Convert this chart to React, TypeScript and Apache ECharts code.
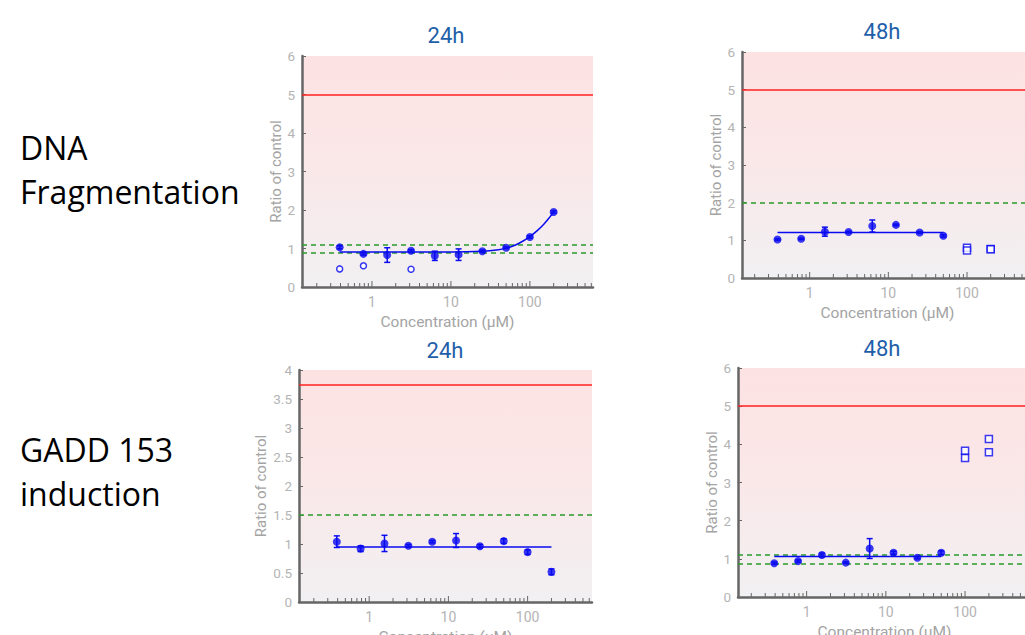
import React, { useEffect, useRef } from "react";
import * as echarts from "echarts";

// ---------- data ----------
const conc = [0.39, 0.78, 1.56, 3.125, 6.25, 12.5, 25, 50, 100, 200];

// DNA fragmentation, 24h
const dna24Mean = [1.03, 0.86, 0.83, 0.94, 0.81, 0.84, 0.93, 1.02, 1.3, 1.95];
const dna24Err = [0.04, 0.03, 0.19, 0.03, 0.12, 0.15, 0.03, 0.02, 0.03, 0.03];
const dna24OpenX = [0.39, 0.78, 3.125];
const dna24OpenY = [0.47, 0.55, 0.46];
const dna24FitX = [0.39, 10, 25, 40, 50, 60, 75, 100, 125, 150, 175, 200];
const dna24FitY = [0.91, 0.91, 0.93, 0.97, 1.01, 1.06, 1.15, 1.31, 1.47, 1.63, 1.79, 1.95];

// DNA fragmentation, 48h
const dna48Conc = [0.39, 0.78, 1.56, 3.125, 6.25, 12.5, 25, 50];
const dna48Mean = [1.02, 1.04, 1.23, 1.22, 1.38, 1.41, 1.21, 1.12];
const dna48Err = [0.02, 0.02, 0.12, 0.02, 0.16, 0.02, 0.02, 0.03];
const dna48SqX = [100, 100, 200, 200];
const dna48SqY = [0.8, 0.73, 0.77, 0.76];
const dna48FitX = [0.39, 50];
const dna48FitY = [1.21, 1.21];

// GADD 153 induction, 24h
const gadd24Mean = [1.04, 0.92, 1.01, 0.97, 1.04, 1.06, 0.96, 1.05, 0.86, 0.52];
const gadd24Err = [0.1, 0.05, 0.14, 0.02, 0.02, 0.12, 0.03, 0.04, 0.04, 0.05];
const gadd24FitX = [0.39, 200];
const gadd24FitY = [0.95, 0.95];

// GADD 153 induction, 48h
const gadd48Conc = [0.39, 0.78, 1.56, 3.125, 6.25, 12.5, 25, 50];
const gadd48Mean = [0.885, 0.94, 1.1, 0.9, 1.27, 1.16, 1.03, 1.16];
const gadd48Err = [0.03, 0.03, 0.05, 0.02, 0.26, 0.04, 0.03, 0.05];
const gadd48SqX = [100, 100, 200, 200];
const gadd48SqY = [3.83, 3.64, 4.14, 3.79];
const gadd48FitX = [0.39, 50];
const gadd48FitY = [1.06, 1.06];

// thresholds
const redLimits = [5, 5, 3.75, 5];
const greenLimits = [[1.1, 0.9], [2], [1.5], [1.1, 0.87]];

// axes
const yMaxes = [6, 6, 4, 6];
const yIntervals = [1, 1, 0.5, 1];
const xMins = [0.13, 0.138, 0.13, 0.136];
const xMaxes = [630, 690, 650, 680];
const xMajorTicks = [1, 10, 100];
const xMinorTicks = [
  0.2, 0.3, 0.4, 0.5, 0.6, 0.7, 0.8, 0.9,
  2, 3, 4, 5, 6, 7, 8, 9,
  20, 30, 40, 50, 60, 70, 80, 90,
  200, 300, 400, 500, 600,
];

const titles = ["24h", "48h", "24h", "48h"];
const rowLabels = [["DNA", "Fragmentation"], ["GADD 153", "induction"]];

// ---------- layout ----------
const grids = [
  { left: 302, top: 56, width: 291, height: 231 },
  { left: 742, top: 52, width: 291, height: 226 },
  { left: 299, top: 370, width: 293, height: 232 },
  { left: 738, top: 368, width: 293, height: 229 },
];
const titlePos = [
  [446, 35],
  [882, 31],
  [445, 350],
  [882, 348],
];
const yNameGaps = [19, 18, 31, 17];

const BLUE = "#0a0af0";
const AXIS = "#666666";

export default function App() {
  const ref = useRef<HTMLDivElement>(null);

  useEffect(() => {
    if (!ref.current) return;
    const chart = echarts.init(ref.current, undefined, { renderer: "svg" });

    const panels = [
      {
        x: conc, mean: dna24Mean, err: dna24Err,
        extraX: dna24OpenX, extraY: dna24OpenY, extraSymbol: "circle",
        fitX: dna24FitX, fitY: dna24FitY, smooth: true,
      },
      {
        x: dna48Conc, mean: dna48Mean, err: dna48Err,
        extraX: dna48SqX, extraY: dna48SqY, extraSymbol: "rect",
        fitX: dna48FitX, fitY: dna48FitY, smooth: false,
      },
      {
        x: conc, mean: gadd24Mean, err: gadd24Err,
        extraX: [] as number[], extraY: [] as number[], extraSymbol: "rect",
        fitX: gadd24FitX, fitY: gadd24FitY, smooth: false,
      },
      {
        x: gadd48Conc, mean: gadd48Mean, err: gadd48Err,
        extraX: gadd48SqX, extraY: gadd48SqY, extraSymbol: "rect",
        fitX: gadd48FitX, fitY: gadd48FitY, smooth: false,
      },
    ];

    const bg = () =>
      new echarts.graphic.LinearGradient(0, 0, 0, 1, [
        { offset: 0, color: "#fde2e2" },
        { offset: 0.5, color: "#fae8e9" },
        { offset: 1, color: "#f1f0f2" },
      ]);

    const series: any[] = [];
    panels.forEach((p, i) => {
      const ticks = [...xMajorTicks.map((v) => [v, 1]), ...xMinorTicks.map((v) => [v, 0])].filter(
        (t) => t[0] >= xMins[i] && t[0] <= xMaxes[i]
      );
      series.push({
        type: "custom",
        xAxisIndex: i,
        yAxisIndex: i,
        silent: true,
        clip: false,
        z: 10,
        data: ticks,
        renderItem: (params: any, api: any) => {
          const v = api.value(0);
          const major = api.value(1);
          const pt = api.coord([v, 0]);
          const len = major ? 6 : 4;
          return {
            type: "line",
            shape: { x1: pt[0], y1: pt[1], x2: pt[0], y2: pt[1] - len },
            style: { stroke: AXIS, lineWidth: 1 },
          };
        },
      });
      const markData: any[] = [
        { yAxis: redLimits[i], lineStyle: { color: "#ff2222", type: "solid", width: 1.6 } },
        ...greenLimits[i].map((g) => ({
          yAxis: g,
          lineStyle: { color: "#2a9a2a", type: [5, 4], width: 1.6 },
        })),
      ];
      series.push({
        type: "line",
        xAxisIndex: i,
        yAxisIndex: i,
        data: p.fitX.map((x, k) => [x, p.fitY[k]]),
        showSymbol: false,
        symbol: "none",
        smooth: p.smooth ? 0.25 : false,
        lineStyle: { color: BLUE, width: 1.5 },
        silent: true,
        z: 3,
        markLine: {
          silent: true,
          symbol: ["none", "none"],
          label: { show: false },
          data: markData,
          z: 2,
        },
      });
      series.push({
        type: "custom",
        xAxisIndex: i,
        yAxisIndex: i,
        silent: true,
        z: 4,
        encode: { x: 0, y: [1, 2] },
        data: p.x.map((x, k) => [x, p.mean[k] - p.err[k], p.mean[k] + p.err[k]]),
        renderItem: (params: any, api: any) => {
          const lo = api.coord([api.value(0), api.value(1)]);
          const hi = api.coord([api.value(0), api.value(2)]);
          const w = 3;
          const st = { stroke: BLUE, lineWidth: 1.5 };
          return {
            type: "group",
            children: [
              { type: "line", shape: { x1: lo[0], y1: lo[1], x2: hi[0], y2: hi[1] }, style: st },
              { type: "line", shape: { x1: lo[0] - w, y1: lo[1], x2: lo[0] + w, y2: lo[1] }, style: st },
              { type: "line", shape: { x1: hi[0] - w, y1: hi[1], x2: hi[0] + w, y2: hi[1] }, style: st },
            ],
          };
        },
      });
      series.push({
        type: "scatter",
        xAxisIndex: i,
        yAxisIndex: i,
        symbol: "circle",
        symbolSize: 8,
        itemStyle: { color: BLUE },
        z: 5,
        data: p.x.map((x, k) => [x, p.mean[k]]),
      });
      if (p.extraX.length) {
        series.push({
          type: "scatter",
          xAxisIndex: i,
          yAxisIndex: i,
          symbol: p.extraSymbol,
          symbolSize: p.extraSymbol === "rect" ? 7 : 6,
          itemStyle: { color: "#ffffff", borderColor: BLUE, borderWidth: 1.5 },
          z: 5,
          data: p.extraX.map((x, k) => [x, p.extraY[k]]),
        });
      }
    });

    const font = "Roboto, sans-serif";
    const graphic: any[] = [];
    titles.forEach((t, i) => {
      graphic.push({
        type: "text",
        x: titlePos[i][0],
        y: titlePos[i][1],
        style: {
          text: t,
          fill: "#1f5fa9",
          font: `22px ${font}`,
          align: "center",
          verticalAlign: "middle",
        },
      });
    });
    const rowY = [
      [147, 191],
      [449, 493],
    ];
    rowLabels.forEach((lines, r) => {
      lines.forEach((ln, k) => {
        graphic.push({
          type: "text",
          x: 20,
          y: rowY[r][k],
          style: {
            text: ln,
            fill: "#000000",
            font: "32px 'Open Sans', sans-serif",
            align: "left",
            verticalAlign: "middle",
          },
        });
      });
    });

    chart.setOption({
      animation: false,
      backgroundColor: "#ffffff",
      grid: grids.map((g) => ({
        ...g,
        show: true,
        backgroundColor: bg(),
        borderWidth: 0,
        containLabel: false,
        outerBoundsMode: "none",
      })),
      xAxis: grids.map((g, i) => ({
        type: "log",
        logBase: 10,
        gridIndex: i,
        min: xMins[i],
        max: xMaxes[i],
        axisLine: { show: true, onZero: false, lineStyle: { color: AXIS, width: 2.5 } },
        axisTick: { show: false },
        minorTick: { show: false },
        splitLine: { show: false },
        axisLabel: {
          color: "#b4b4b4",
          fontSize: 14,
          fontFamily: font,
          margin: 8,
          showMinLabel: false,
          showMaxLabel: false,
        },
        name: "Concentration (µM)",
        nameLocation: "middle",
        nameGap: 27,
        nameTextStyle: { color: "#a4a4a4", fontSize: 15.5, fontFamily: font },
      })),
      yAxis: grids.map((g, i) => ({
        type: "value",
        gridIndex: i,
        min: 0,
        max: yMaxes[i],
        interval: yIntervals[i],
        axisLine: { show: true, onZero: false, lineStyle: { color: AXIS, width: 2.5 } },
        axisTick: { show: true, inside: true, length: 4, lineStyle: { color: AXIS } },
        splitLine: { show: false },
        axisLabel: { color: "#b4b4b4", fontSize: 13.5, fontFamily: font, margin: 7 },
        name: "Ratio of control",
        nameLocation: "middle",
        nameGap: yNameGaps[i],
        nameTextStyle: { color: "#a4a4a4", fontSize: 15, fontFamily: font },
      })),
      series,
      graphic,
    });

    return () => chart.dispose();
  }, []);

  return (
    <div
      ref={ref}
      style={{ position: "fixed", left: 0, top: 0, width: 1025, height: 635, overflow: "hidden" }}
    />
  );
}
